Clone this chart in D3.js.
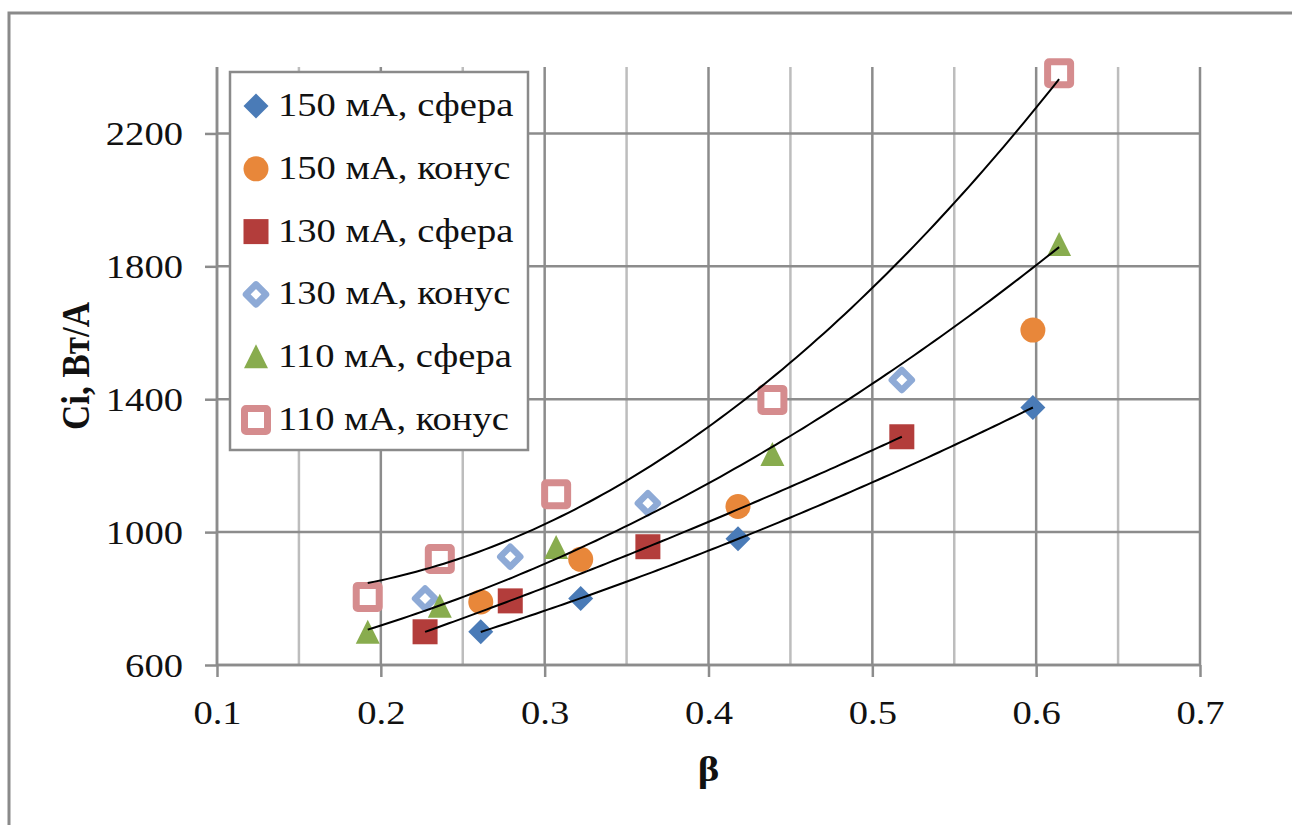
<!DOCTYPE html>
<html><head><meta charset="utf-8">
<script src="https://cdn.jsdelivr.net/npm/d3@7"></script>
<style>body{margin:0;background:#fff}</style>
</head><body><svg id="c" width="1292" height="825"></svg>
<script>
// ---- data ----
const seriesNames = ["150 мА, сфера","150 мА, конус","130 мА, сфера","130 мА, конус","110 мА, сфера","110 мА, конус"];
const beta150 = [0.261, 0.322, 0.418, 0.598];
const ci150sphere = [700, 800, 980, 1375];
const ci150cone = [790, 918, 1077, 1608];
const beta130 = [0.227, 0.279, 0.363, 0.518];
const ci130sphere = [700, 793, 956, 1287];
const ci130cone = [800, 926, 1087, 1458];
const beta110 = [0.192, 0.236, 0.307, 0.439, 0.614];
const ci110sphere = [697, 775, 952, 1232, 1864];
const ci110cone = [805, 919, 1114, 1398, 2381];
const xTicks = [0.1, 0.2, 0.3, 0.4, 0.5, 0.6, 0.7];
const xMinorTicks = [0.15, 0.25, 0.35, 0.45, 0.55, 0.65];
const yTicks = [600, 1000, 1400, 1800, 2200];
const xTitle = "β";
const yTitle = "Ci, Вт/А";

const seriesX = [beta150, beta150, beta130, beta130, beta110, beta110];
const seriesY = [ci150sphere, ci150cone, ci130sphere, ci130cone, ci110sphere, ci110cone];
const trendSeries = [0, 2, 4, 5]; // series with polynomial (2nd order) trendlines

const styles = [
  {shape: "diamond", fill: "#4a7bb7", stroke: "none"},
  {shape: "circle", fill: "#e8873a", stroke: "none"},
  {shape: "square", fill: "#b33d3b", stroke: "none"},
  {shape: "hdiamond", fill: "#fff", stroke: "#8eaad6"},
  {shape: "triangle", fill: "#88ac4e", stroke: "none"},
  {shape: "hsquare", fill: "#fff", stroke: "#d58c8e"}
];

const svg = d3.select("#c");
const x = d3.scaleLinear().domain([0.1, 0.7]).range([217, 1200]);
const y = d3.scaleLinear().domain([600, 2400]).range([665, 67]);
const SX = 1.17; // horizontal text stretch of original
const serif = "'Liberation Serif','Times New Roman',serif";
const majorGrey = "#8c8c8c", minorGrey = "#bdbdbd";

// outer border
svg.append("rect").attr("x", 9).attr("y", 13).attr("width", 1400).attr("height", 1000)
  .attr("fill", "none").attr("stroke", "#8a8a8a").attr("stroke-width", 3);

// gridlines
const grid = svg.append("g");
grid.selectAll(".vmin").data(xMinorTicks).join("line")
  .attr("x1", d => x(d)).attr("x2", d => x(d)).attr("y1", y(2400)).attr("y2", y(600))
  .attr("stroke", minorGrey).attr("stroke-width", 2.5);
grid.selectAll(".vmaj").data(xTicks).join("line")
  .attr("x1", d => x(d)).attr("x2", d => x(d)).attr("y1", y(2400)).attr("y2", y(600))
  .attr("stroke", majorGrey).attr("stroke-width", 2.5);
grid.selectAll(".hmaj").data(yTicks).join("line")
  .attr("x1", x(0.1)).attr("x2", x(0.7)).attr("y1", d => y(d)).attr("y2", d => y(d))
  .attr("stroke", majorGrey).attr("stroke-width", 2.5);

// axes
const xAxis = svg.append("g").attr("transform", `translate(0,${y(600)})`)
  .call(d3.axisBottom(x).tickValues(xTicks).tickSize(12).tickSizeOuter(0).tickFormat(d3.format(".1f")));
const yAxis = svg.append("g").attr("transform", `translate(${x(0.1)},0)`)
  .call(d3.axisLeft(y).tickValues(yTicks).tickSize(12).tickSizeOuter(0).tickFormat(d3.format("d")));
[xAxis, yAxis].forEach(a => {
  a.select(".domain").attr("stroke", majorGrey).attr("stroke-width", 2.5);
  a.selectAll(".tick line").attr("stroke", majorGrey).attr("stroke-width", 2.5);
  a.selectAll(".tick text").attr("fill", "#111").style("font-family", serif).style("font-size", "33px");
});
yAxis.select(".domain").attr("d", `M0,${y(2400)}V${y(600)}`);
xAxis.select(".domain").attr("d", `M${x(0.1)},0H${x(0.7)}`);
xAxis.selectAll(".tick text").attr("y", null).attr("dy", null)
  .attr("transform", `translate(0,59) scale(${SX},1)`).attr("text-anchor", "middle");
yAxis.selectAll(".tick text").attr("x", null).attr("dy", null)
  .attr("transform", `translate(-34,11) scale(${SX},1)`).attr("text-anchor", "end");

// titles
svg.append("text").attr("transform", `translate(${(x(0.1)+x(0.7))/2},781) scale(${SX},1)`)
  .attr("text-anchor", "middle").style("font-family", serif).style("font-size", "35px")
  .style("font-weight", "bold").attr("fill", "#111").text(xTitle);
svg.append("text").attr("transform", `translate(89,${(y(600)+y(2400))/2}) scale(${SX},1) rotate(-90)`)
  .attr("text-anchor", "middle").style("font-family", serif).style("font-size", "35px")
  .style("font-weight", "bold").attr("fill", "#111").text(yTitle);

// marker drawing
function drawMarker(g, s, cx, cy) {
  switch (s.shape) {
    case "diamond":
      g.append("path").attr("d", `M${cx},${cy-12.5}L${cx+12.5},${cy}L${cx},${cy+12.5}L${cx-12.5},${cy}Z`).attr("fill", s.fill);
      break;
    case "circle":
      g.append("circle").attr("cx", cx).attr("cy", cy).attr("r", 12.5).attr("fill", s.fill);
      break;
    case "square":
      g.append("rect").attr("x", cx-12.5).attr("y", cy-12.5).attr("width", 25).attr("height", 25).attr("fill", s.fill);
      break;
    case "hdiamond":
      g.append("path").attr("d", `M${cx},${cy-10}L${cx+10},${cy}L${cx},${cy+10}L${cx-10},${cy}Z`)
        .attr("fill", s.fill).attr("stroke", s.stroke).attr("stroke-width", 6.5).attr("stroke-linejoin", "round");
      break;
    case "triangle":
      g.append("path").attr("d", `M${cx},${cy-13}L${cx+12},${cy+11}L${cx-12},${cy+11}Z`).attr("fill", s.fill);
      break;
    case "hsquare":
      g.append("rect").attr("x", cx-11.5).attr("y", cy-11.5).attr("width", 23).attr("height", 23).attr("rx", 1.5)
        .attr("fill", s.fill).attr("stroke", s.stroke).attr("stroke-width", 7).attr("stroke-linejoin", "round");
      break;
  }
}

// points
const pts = svg.append("g");
seriesY.forEach((ys, i) => {
  ys.forEach((v, j) => drawMarker(pts, styles[i], x(seriesX[i][j]), y(v)));
});

// 2nd-order polynomial least-squares trendlines
function polyfit2(xs, ys) {
  const S = [0,0,0,0,0], T = [0,0,0];
  xs.forEach((xv, k) => {
    for (let p = 0; p < 5; p++) S[p] += Math.pow(xv, p);
    for (let p = 0; p < 3; p++) T[p] += Math.pow(xv, p) * ys[k];
  });
  const A = [[S[0],S[1],S[2],T[0]],[S[1],S[2],S[3],T[1]],[S[2],S[3],S[4],T[2]]];
  for (let c = 0; c < 3; c++) {
    for (let r = c+1; r < 3; r++) {
      const f = A[r][c] / A[c][c];
      for (let k = c; k < 4; k++) A[r][k] -= f * A[c][k];
    }
  }
  const sol = [0,0,0];
  for (let r = 2; r >= 0; r--) {
    let s = A[r][3];
    for (let k = r+1; k < 3; k++) s -= A[r][k] * sol[k];
    sol[r] = s / A[r][r];
  }
  return sol;
}
const line = d3.line().x(d => x(d[0])).y(d => y(d[1])).curve(d3.curveLinear);
trendSeries.forEach(i => {
  const xs = seriesX[i], ys = seriesY[i];
  const c = polyfit2(xs, ys);
  const x0 = d3.min(xs), x1 = d3.max(xs);
  const curve = d3.range(0, 101).map(k => {
    const xv = x0 + (x1 - x0) * k / 100;
    return [xv, c[0] + c[1]*xv + c[2]*xv*xv];
  });
  svg.append("path").datum(curve).attr("d", line).attr("fill", "none")
    .attr("stroke", "#000").attr("stroke-width", 2);
});

// legend
const lg = svg.append("g");
lg.append("rect").attr("x", 230).attr("y", 72).attr("width", 298).attr("height", 378)
  .attr("fill", "#fff").attr("stroke", "#8a8a8a").attr("stroke-width", 2.5);
seriesNames.forEach((name, i) => {
  const cy = 105 + i * 62.8;
  drawMarker(lg, styles[i], 256, cy + 1);
  lg.append("text").attr("transform", `translate(278,${cy + 11}) scale(${SX},1)`)
    .style("font-family", serif).style("font-size", "33px").attr("fill", "#111").text(name);
});
</script>
</body></html>
